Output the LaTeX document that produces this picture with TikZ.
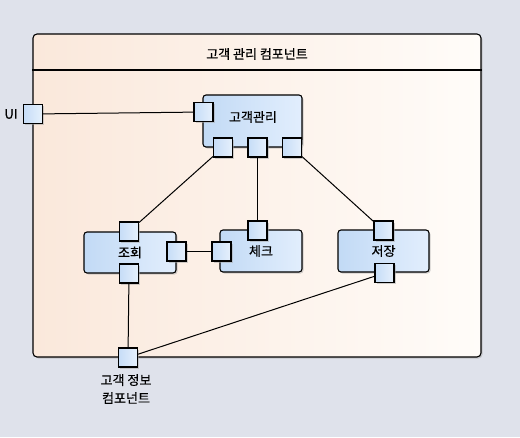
\documentclass[tikz,border=0pt]{standalone}
\usepackage{fontspec}
\setmainfont{Noto Sans CJK KR}[FakeBold=0.6]
\usetikzlibrary{shadows}
\definecolor{bgcol}{HTML}{DFE2EB}
\definecolor{compL}{HTML}{FAE8DB}
\definecolor{compR}{HTML}{FFFCF9}
\definecolor{partL}{HTML}{C2DAF5}
\definecolor{partR}{HTML}{E2EEFD}
\definecolor{portL}{HTML}{C6DDF7}
\definecolor{portR}{HTML}{E6F0FC}

\begin{document}
\begin{tikzpicture}[
    x=1pt, y=-1pt,
    every node/.style={font=\fontsize{13}{18}\selectfont},
    % Node styles
    comp/.style={draw, line width=1.1pt, rounded corners=4pt, left color=compL, right color=compR, minimum width=448pt, minimum height=323pt, inner sep=0pt, drop shadow={shadow xshift=1.5pt, shadow yshift=-1.5pt, fill=black!35, opacity=0.5}},
    part/.style={draw, line width=1.1pt, rounded corners=3pt, left color=partL, right color=partR, inner sep=0pt, drop shadow={shadow xshift=1.5pt, shadow yshift=-1.5pt, fill=black!35, opacity=0.5}},
    port/.style={draw, line width=1.1pt, minimum size=19pt, inner sep=0pt, left color=portL, right color=portR, drop shadow={shadow xshift=1.5pt, shadow yshift=-1.5pt, fill=black!35, opacity=0.5}},
    link/.style={line width=1pt},
]

% Background
\fill[bgcol] (0,0) rectangle (520,437);
\useasboundingbox (0,0) rectangle (520,437);

% Component frame with title band
\node[comp] (comp) at (257,195.5) {};
\draw[line width=1.1pt] (comp.west |- 0,70) -- (comp.east |- 0,70);
\node (title) at (257,54) {고객 관리 컴포넌트};

% Parts
\node[part, minimum width=99pt, minimum height=52pt] (mgr) at (252.5,121) {};
\node (mgrtxt) at (253,117) {고객관리};
\node[part, minimum width=92pt, minimum height=41pt] (query) at (130,252.5) {조회};
\node[part, minimum width=82pt, minimum height=42pt] (check) at (261,251) {체크};
\node[part, minimum width=91pt, minimum height=42pt] (store) at (383.5,251) {저장};

% Ports
\node[port] (ui) at (33,114) {};
\node[port] (mgrL) at (203.5,112) {};
\node[port] (mgrB1) at (223,147.5) {};
\node[port] (mgrB2) at (257.5,147.5) {};
\node[port] (mgrB3) at (292,147.5) {};
\node[port] (queryT) at (129,231.5) {};
\node[port] (queryR) at (176.5,251.5) {};
\node[port] (queryB) at (129,273.5) {};
\node[port] (checkT) at (257.5,230.5) {};
\node[port] (checkL) at (221.5,251.5) {};
\node[port] (storeT) at (383.5,230.5) {};
\node[port] (storeB) at (384.5,273) {};
\node[port] (info) at (128,357.5) {};

% Port labels
\node (uitxt) at (11,114) {UI};
\node[align=center] (infotxt) at (126,389) {고객 정보\\컴포넌트};

% Connectors
\draw[link] (ui) -- (mgrL);
\draw[link] (mgrB1) -- (queryT);
\draw[link] (mgrB2) -- (checkT);
\draw[link] (mgrB3) -- (storeT);
\draw[link] (queryR) -- (checkL);
\draw[link] (queryB) -- (info);
\draw[link] (storeB) -- (info);

\end{tikzpicture}
\end{document}
